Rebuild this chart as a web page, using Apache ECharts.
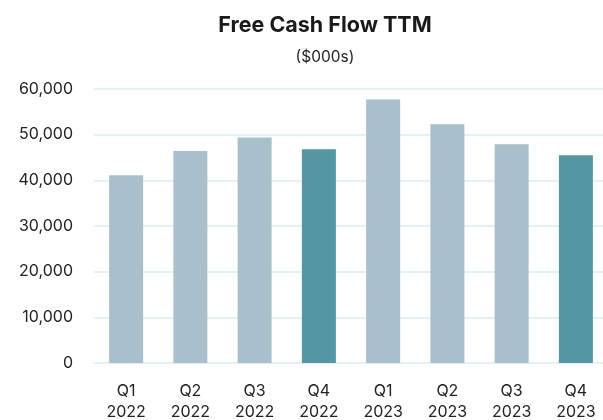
<!DOCTYPE html>
<html>
<head>
<meta charset="utf-8">
<script src="https://cdn.jsdelivr.net/npm/echarts@6/dist/echarts.min.js"></script>
<style>
  html, body { margin: 0; padding: 0; background: #fff; }
  #chart { width: 603px; height: 420px; }
</style>
</head>
<body>
<div id="chart"></div>
<script>
// data
var quarters = ['Q1\n2022', 'Q2\n2022', 'Q3\n2022', 'Q4\n2022', 'Q1\n2023', 'Q2\n2023', 'Q3\n2023', 'Q4\n2023'];
var fcf = [41100, 46400, 49400, 46800, 57700, 52300, 47900, 45500];
// year-end quarters are darker
var highlight = [false, false, false, true, false, false, false, true];
var yTicks = [0, 10000, 20000, 30000, 40000, 50000, 60000];

var light = '#A9BFCB';
var dark = '#5397A3';
var font = 'Inter, "Noto Sans", sans-serif';

var barData = fcf.map(function (v, i) {
    return { value: v, itemStyle: { color: highlight[i] ? dark : light } };
});

var myChart = echarts.init(document.getElementById('chart'));

var option = {
    animation: false,
    title: {
        text: 'Free Cash Flow TTM',
        subtext: '($000s)',
        left: 320,
        top: 10,
        textAlign: 'center',
        itemGap: 12,
        textStyle: { fontFamily: font, fontSize: 21.5, fontWeight: 'bold', color: '#1a1a1a' },
        subtextStyle: { fontFamily: font, fontSize: 15.5, color: '#222' }
    },
    grid: { left: 94, right: -5, top: 89, bottom: 57, outerBoundsMode: 'none' },
    xAxis: {
        type: 'category',
        data: quarters,
        axisTick: { show: false },
        axisLine: { show: true, lineStyle: { color: '#E2F1F1', width: 2 } },
        axisLabel: { fontFamily: font, fontSize: 16, color: '#222', margin: 18, lineHeight: 21 }
    },
    yAxis: {
        type: 'value',
        min: yTicks[0],
        max: yTicks[yTicks.length - 1],
        interval: yTicks[1] - yTicks[0],
        axisLine: { show: false },
        axisTick: { show: false },
        splitLine: { lineStyle: { color: '#E2F1F1', width: 2 } },
        axisLabel: {
            fontFamily: font, fontSize: 16, color: '#222', margin: 21,
            formatter: function (v) { return v.toLocaleString('en-US'); }
        }
    },
    series: [{
        type: 'bar',
        data: barData,
        barWidth: 34
    }]
};

myChart.setOption(option);
</script>
</body>
</html>
